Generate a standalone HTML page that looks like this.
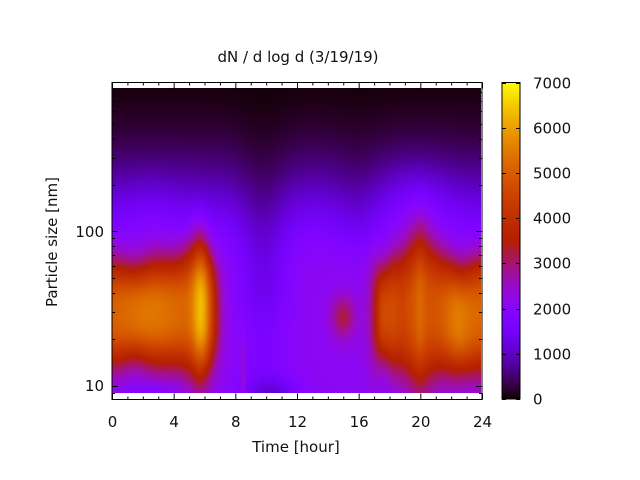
<!DOCTYPE html>
<html><head><style>
html,body{margin:0;padding:0;background:#fff;width:640px;height:480px;overflow:hidden}
#c{position:absolute;left:112px;top:88px}
#cb{position:absolute;left:502px;top:82px}
svg{position:absolute;left:0;top:0}
text{font-family:"DejaVu Sans","Liberation Sans",sans-serif;font-size:15px;fill:#111}
</style></head><body>
<canvas id="c" width="369" height="305"></canvas>
<canvas id="cb" width="18" height="317"></canvas>
<svg width="640" height="480" id="s"></svg>
<script>
function col(v){var x=Math.max(0,Math.min(1,v/7000));var r=Math.sqrt(x),g=x*x*x,b=Math.sin(2*Math.PI*x);if(b<0)b=0;return [r*255,g*255,b*255];}
function G(a,c,w){var d=(a-c)/w;return Math.exp(-d*d);}
function S(a,c,w){return 1/(1+Math.exp(-(a-c)/w));}
function f(t,s){
 var base=s<1.7?2100:2100*Math.exp(-Math.pow((s-1.7)/0.66,2));
 base*=1-0.4*G(t,9.8,1.7)*(0.5+0.5*S(s,1.5,0.08));
 base*=1-0.2*G(t,16,1.5)*S(s,1.9,0.1);
 base+=500*G(t,19.8,2.2)*G(s,2.15,0.3);
 base+=250*G(t,2.5,2)*G(s,2.05,0.3);
 base-=700*G(t,10.5,1.8)*G(s,0.95,0.1);
 base-=400*G(t,2.5,2)*G(s,0.95,0.08);
 base+=700*G(t,8.5,0.12)*(1-S(s,1.3,0.05));
 if(base<30)base=30;
 var cutL=1/(1+Math.exp((t-6.7)/0.3));
 var AL=2900+1500*G(t,5.8,0.6)+400*G(t,2.5,2);
 var wL=0.34+0.09*G(t,5.6,1.0)-0.04*G(t,1.5,1);
 var cL=1.47+0.03*G(t,5.6,1);
 var d=Math.abs((s-cL)/wL); var bL=AL*Math.exp(-Math.pow(d,2.6))*cutL;
 var cutR=1/(1+Math.exp(-(t-17.1)/0.3));
 var AR=2700+400*G(t,20,0.35)+700*G(t,22.5,0.9)+300*G(t,24,0.8)+300*G(t,17.5,0.3)-300*G(t,18.8,0.5);
 var wR=0.37+0.11*G(t,20,1.0)-0.06*G(t,17.6,0.5)-0.03*G(t,22.7,0.8);
 var cR=1.47+0.02*G(t,20,1)-0.04*G(t,22.7,1);
 d=Math.abs((s-cR)/wR); var bR=AR*Math.exp(-Math.pow(d,2.6))*cutR;
 var sp=1100*G(t,15,0.8)*G(s,1.45,0.14);
 return base+Math.max(bL,bR)+sp;
}
var cv=document.getElementById('c'),ctx=cv.getContext('2d'),W=369,H=305;
var im=ctx.createImageData(W,H);
for(var y=0;y<H;y++){var s=2.927-(y/H)*(2.927-0.955);for(var x=0;x<W;x++){var t=x/W*24;var c=col(f(t,s));var i=(y*W+x)*4;im.data[i]=c[0];im.data[i+1]=c[1];im.data[i+2]=c[2];im.data[i+3]=255;}}
ctx.putImageData(im,0,0);
var cb=document.getElementById('cb'),cx=cb.getContext('2d');
for(var y=0;y<317;y++){var c=col(7000*(1-y/316));cx.fillStyle='rgb('+(c[0]|0)+','+(c[1]|0)+','+(c[2]|0)+')';cx.fillRect(0,y,18,1);}
var o='';
function L(x1,y1,x2,y2){o+='<line x1="'+x1+'" y1="'+y1+'" x2="'+x2+'" y2="'+y2+'" stroke="#000" stroke-width="1"/>';}
function T(x,y,s,a){o+='<text x="'+x+'" y="'+y+'" text-anchor="'+(a||'middle')+'">'+s+'</text>';}
o+='<rect x="112" y="82.5" width="370" height="317" fill="none" stroke="#000"/>';
for(var h=0;h<=24;h++){var x=112+h*370/24+0.5;var len=(h%4==0)?6:3;L(x,399.5,x,399.5-len);L(x,82.5,x,82.5+len);if(h%4==0)T(x,427,h);}
function yv(d){return 385.7-(Math.log10(d)-1)*154.3;}
var ds=[9,10,20,30,40,50,60,70,80,90,100,200,300,400,500,600,700,800];
ds.forEach(function(d){var y=Math.round(yv(d))+0.5;var m=(d==10||d==100);var len=m?6:3;L(112,y,112+len,y);L(482,y,482-len,y);});
T(104,391,'10','end');T(104,237,'100','end');
o+='<rect x="502" y="82.5" width="18" height="316.5" fill="none" stroke="#000"/>';
for(var k=0;k<=7;k++){var y=Math.round(399-k*316.5/7)+0.5;L(502,y,506,y);L(520,y,516,y);T(533,y+5,k*1000,'start');}
T(298,62,'dN / d log d (3/19/19)');
T(296,452,'Time [hour]');
o+='<text x="57" y="242" text-anchor="middle" transform="rotate(-90 57 242)">Particle size [nm]</text>';
document.getElementById('s').innerHTML=o;
</script>
</body></html>
